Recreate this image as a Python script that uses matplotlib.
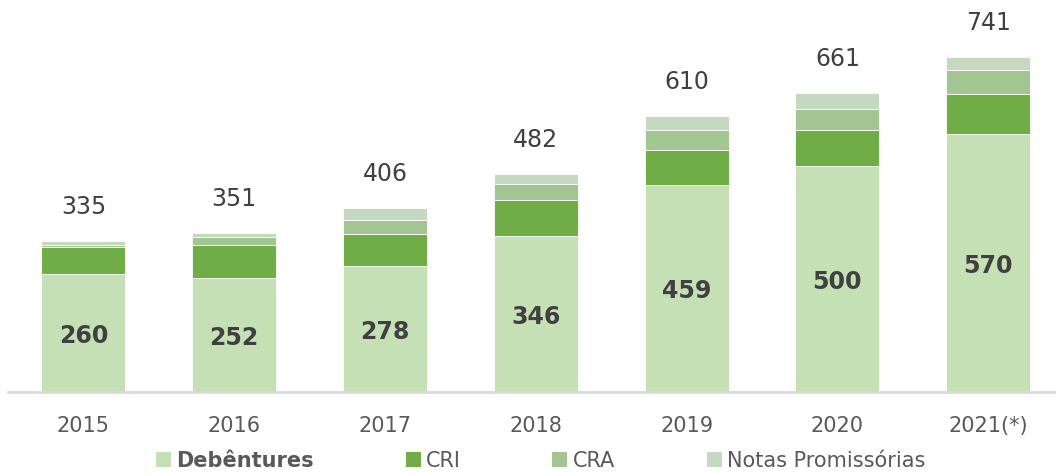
import numpy as np
import matplotlib.pyplot as plt
from matplotlib.patches import Patch

# Values
years = ["2015", "2016", "2017", "2018", "2019", "2020", "2021(*)"]
debentures = [260, 252, 278, 346, 459, 500, 570]
cri = [60, 74, 71, 79, 77, 80, 89]
cra = [6, 18, 32, 35, 43, 47, 54]
notas_promissorias = [9, 7, 25, 22, 31, 34, 28]
totals = [335, 351, 406, 482, 610, 661, 741]

series_names = ["Debêntures", "CRI", "CRA", "Notas Promissórias"]
colors = ["#C5E0B4", "#70AD47", "#A3C592", "#C4D9BF"]
text_color = "#404040"
label_color = "#595959"


def plot_chart() -> None:
    fig = plt.figure(figsize=(10.56, 4.76), dpi=100)
    # place axes so the category spacing matches the reference
    left = 8 / 1056
    width = 7 * 150.8 / 1056
    bottom = (476 - 392) / 476
    height = 800 * 0.452 / 476
    ax = fig.add_axes([left, bottom, width, height])

    x = np.arange(len(years))
    bar_w = 0.557
    stack = [debentures, cri, cra, notas_promissorias]
    base = np.zeros(len(years))
    for vals, col in zip(stack, colors):
        ax.bar(x, vals, bar_w, bottom=base, color=col, edgecolor="white", linewidth=0.6)
        base += np.array(vals)

    # bold labels for Debêntures, centred in the segment
    for xi, v in zip(x, debentures):
        ax.annotate(str(v), (xi, v / 2), xytext=(0, -2), textcoords="offset points",
                    ha="center", va="center", fontsize=17, fontweight="bold", color=text_color)

    # total labels above bars
    for xi, top, t in zip(x, base, totals):
        ax.annotate(str(t), (xi, top), xytext=(0, 24.5), textcoords="offset points",
                    ha="center", va="center", fontsize=17, color=text_color,
                    annotation_clip=False)

    ax.set_xlim(-0.5, len(years) - 0.5)
    ax.set_ylim(0, 800)
    ax.set_xticks(x)
    ax.set_xticklabels(years, fontsize=15, color=label_color)
    ax.tick_params(axis="x", length=0, pad=17)
    ax.set_yticks([])
    for side in ["top", "right", "left"]:
        ax.spines[side].set_visible(False)
    ax.spines["bottom"].set_color("#D9D9D9")
    ax.spines["bottom"].set_linewidth(2)

    handles = [Patch(facecolor=c, edgecolor="none") for c in colors]
    leg = fig.legend(handles, series_names, loc="center", bbox_to_anchor=(0.512, 1 - 461 / 476),
                     ncol=4, frameon=False, fontsize=15, handlelength=0.72, handleheight=0.72,
                     handletextpad=0.25, columnspacing=4.4, borderpad=0)
    for txt in leg.get_texts():
        txt.set_color(label_color)
    leg.get_texts()[0].set_fontweight("bold")

    fig.savefig("out.png", dpi=100)


if __name__ == "__main__":
    plot_chart()
